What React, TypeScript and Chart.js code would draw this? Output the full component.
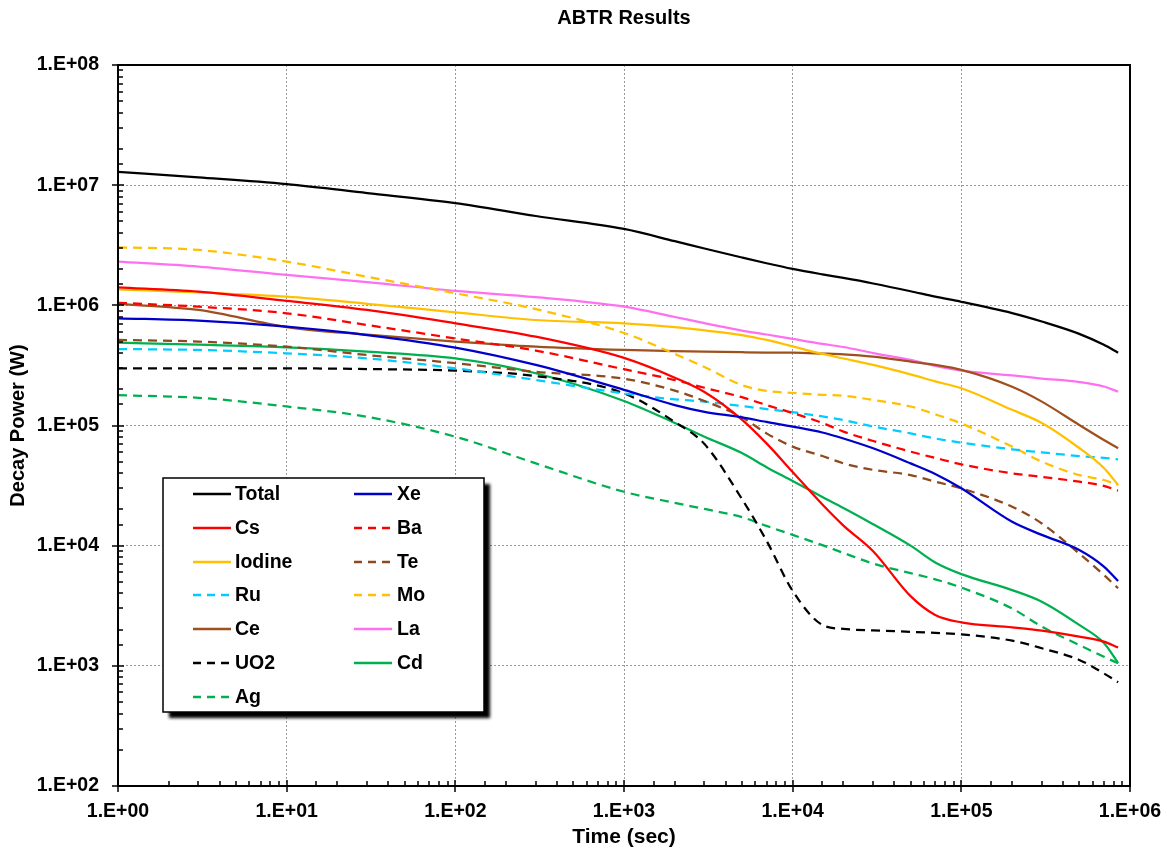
import React, { useEffect, useRef } from 'react';
import { Chart, registerables } from 'chart.js';

Chart.register(...registerables);

// ---- data ----
const TIME = [1, 3, 10, 30, 100, 300, 1000, 2000, 3000, 5000, 7000, 1e4, 1.5e4, 2e4, 3e4, 5e4, 7e4, 1e5, 2e5, 3e5, 5e5, 7e5, 8.5e5];

const TOTAL = [1.29e7, 1.16e7, 1.02e7, 8.6e6, 7.1e6, 5.54e6, 4.32e6, 3.42e6, 2.97e6, 2.5e6, 2.24e6, 2.01e6, 1.81e6, 1.69e6, 1.52e6, 1.31e6, 1.18e6, 1.07e6, 8.61e5, 7.33e5, 5.79e5, 4.69e5, 4.03e5];
const XE = [7.8e5, 7.45e5, 6.64e5, 5.66e5, 4.45e5, 3.19e5, 1.98e5, 1.48e5, 1.3e5, 1.17e5, 1.07e5, 9.8e4, 8.75e4, 7.8e4, 6.46e4, 4.84e4, 3.95e4, 3.0e4, 1.58e4, 1.23e4, 9.2e3, 6.7e3, 5.08e3];
const CS = [1.41e6, 1.3e6, 1.09e6, 9.15e5, 7.08e5, 5.48e5, 3.65e5, 2.5e5, 1.9e5, 1.12e5, 7.1e4, 4.1e4, 2.2e4, 1.47e4, 9.0e3, 3.8e3, 2.65e3, 2.3e3, 2.09e3, 1.96e3, 1.75e3, 1.59e3, 1.42e3];
const BA = [1.05e6, 9.75e5, 8.59e5, 6.86e5, 5.3e5, 4.2e5, 2.94e5, 2.39e5, 2.06e5, 1.72e5, 1.48e5, 1.27e5, 1.05e5, 8.9e4, 7.43e4, 6.06e4, 5.37e4, 4.75e4, 4.0e4, 3.73e4, 3.41e4, 3.14e4, 2.87e4];
const IODINE = [1.36e6, 1.28e6, 1.18e6, 1.03e6, 8.75e5, 7.55e5, 7.08e5, 6.6e5, 6.2e5, 5.66e5, 5.15e5, 4.55e5, 3.94e5, 3.61e5, 3.19e5, 2.66e5, 2.33e5, 2.04e5, 1.35e5, 1.05e5, 6.5e4, 4.43e4, 3.2e4];
const TE = [5.15e5, 4.99e5, 4.53e5, 3.86e5, 3.3e5, 2.8e5, 2.45e5, 1.95e5, 1.6e5, 1.17e5, 8.6e4, 6.67e4, 5.57e4, 4.84e4, 4.27e4, 3.87e4, 3.41e4, 3.0e4, 2.11e4, 1.53e4, 8.6e3, 5.7e3, 4.42e3];
const RU = [4.33e5, 4.25e5, 3.99e5, 3.62e5, 2.99e5, 2.39e5, 1.85e5, 1.65e5, 1.58e5, 1.45e5, 1.37e5, 1.29e5, 1.19e5, 1.11e5, 9.8e4, 8.6e4, 7.8e4, 7.2e4, 6.34e4, 5.98e4, 5.57e4, 5.37e4, 5.23e4];
const MO = [3.04e6, 2.89e6, 2.31e6, 1.73e6, 1.26e6, 9.3e5, 5.89e5, 3.94e5, 3.07e5, 2.17e5, 1.94e5, 1.87e5, 1.8e5, 1.77e5, 1.63e5, 1.44e5, 1.24e5, 1.04e5, 6.67e4, 5.0e4, 3.87e4, 3.52e4, 3.2e4];
const CE = [1.03e6, 9.15e5, 6.6e5, 5.7e5, 4.99e5, 4.53e5, 4.25e5, 4.15e5, 4.11e5, 4.07e5, 4.05e5, 4.04e5, 3.97e5, 3.91e5, 3.74e5, 3.4e5, 3.19e5, 2.9e5, 2.1e5, 1.58e5, 1.01e5, 7.57e4, 6.46e4];
const LA = [2.31e6, 2.1e6, 1.79e6, 1.56e6, 1.32e6, 1.17e6, 9.75e5, 8.0e5, 7.1e5, 6.17e5, 5.72e5, 5.25e5, 4.77e5, 4.5e5, 4.01e5, 3.51e5, 3.13e5, 2.86e5, 2.61e5, 2.46e5, 2.3e5, 2.11e5, 1.91e5];
const UO2 = [2.99e5, 2.99e5, 2.99e5, 2.95e5, 2.86e5, 2.58e5, 1.85e5, 1.07e5, 7.0e4, 2.45e4, 1.1e4, 4.2e3, 2.19e3, 2.03e3, 1.97e3, 1.92e3, 1.88e3, 1.83e3, 1.62e3, 1.4e3, 1.12e3, 8.65e2, 7.3e2];
const CD = [4.89e5, 4.7e5, 4.47e5, 4.11e5, 3.62e5, 2.72e5, 1.6e5, 1.05e5, 8.07e4, 5.9e4, 4.5e4, 3.45e4, 2.54e4, 2.06e4, 1.51e4, 1.0e4, 7.25e3, 5.8e3, 4.27e3, 3.42e3, 2.19e3, 1.55e3, 1.06e3];
const AG = [1.79e5, 1.7e5, 1.44e5, 1.18e5, 8.07e4, 4.84e4, 2.81e4, 2.27e4, 2.02e4, 1.73e4, 1.46e4, 1.23e4, 1.01e4, 8.7e3, 7.1e3, 5.9e3, 5.25e3, 4.48e3, 3.0e3, 2.12e3, 1.49e3, 1.19e3, 1.05e3];

const X_MIN = 1;
const X_MAX = 1e6;
const Y_MIN = 1e2;
const Y_MAX = 1e8;

const TITLE = 'ABTR Results';
const X_TITLE = 'Time (sec)';
const Y_TITLE = 'Decay Power (W)';

// ---- styles ----
const DASH = [9, 6];
const SERIES = [
  { label: 'Total', values: TOTAL, color: '#000000', dash: [] as number[] },
  { label: 'Xe', values: XE, color: '#0000CC', dash: [] as number[] },
  { label: 'Cs', values: CS, color: '#FF0000', dash: [] as number[] },
  { label: 'Ba', values: BA, color: '#FF0000', dash: DASH },
  { label: 'Iodine', values: IODINE, color: '#FFC000', dash: [] as number[] },
  { label: 'Te', values: TE, color: '#8C4A1E', dash: DASH },
  { label: 'Ru', values: RU, color: '#00CCFF', dash: DASH },
  { label: 'Mo', values: MO, color: '#FFC000', dash: DASH },
  { label: 'Ce', values: CE, color: '#A0501E', dash: [] as number[] },
  { label: 'La', values: LA, color: '#FF70F0', dash: [] as number[] },
  { label: 'UO2', values: UO2, color: '#000000', dash: DASH },
  { label: 'Cd', values: CD, color: '#00B050', dash: [] as number[] },
  { label: 'Ag', values: AG, color: '#00B050', dash: DASH },
];

const FONT = "'Liberation Sans', Arial, sans-serif";

const isDecade = (v: number) => {
  const l = Math.log10(v);
  return Math.abs(l - Math.round(l)) < 1e-9;
};
const sciLabel = (v: number) => {
  const e = Math.round(Math.log10(v));
  return '1.E' + (e < 0 ? '-' : '+') + String(Math.abs(e)).padStart(2, '0');
};

const decorPlugin = {
  id: 'decor',
  afterDraw(chart: any) {
    const ctx = chart.ctx as CanvasRenderingContext2D;
    const a = chart.chartArea;
    const xs = chart.scales.x;
    const ys = chart.scales.y;
    ctx.save();
    ctx.strokeStyle = '#000';
    ctx.lineWidth = 1.5;
    ctx.setLineDash([]);
    // x ticks
    xs.ticks.forEach((t: any) => {
      const p = Math.round(xs.getPixelForValue(t.value));
      const maj = isDecade(t.value);
      ctx.beginPath();
      ctx.moveTo(p, a.bottom - (maj ? 6 : 5));
      ctx.lineTo(p, a.bottom + (maj ? 6 : 0));
      ctx.stroke();
    });
    // y ticks
    ys.ticks.forEach((t: any) => {
      const p = Math.round(ys.getPixelForValue(t.value));
      const maj = isDecade(t.value);
      ctx.beginPath();
      ctx.moveTo(a.left - (maj ? 6 : 0), p);
      ctx.lineTo(a.left + (maj ? 6 : 5), p);
      ctx.stroke();
    });
    // frame
    ctx.lineWidth = 2;
    ctx.strokeRect(a.left, a.top, a.right - a.left, a.bottom - a.top);

    // legend box
    const bx = 163, by = 478, bw = 321, bh = 234;
    ctx.save();
    ctx.shadowColor = 'rgba(0,0,0,1)';
    ctx.shadowOffsetX = 6;
    ctx.shadowOffsetY = 6;
    ctx.shadowBlur = 3;
    ctx.fillStyle = '#fff';
    ctx.fillRect(bx, by, bw, bh);
    ctx.restore();
    ctx.lineWidth = 1.5;
    ctx.strokeStyle = '#000';
    ctx.strokeRect(bx, by, bw, bh);

    const colLine = [193, 354];
    const colText = [235, 397];
    const row0 = 494;
    const rowH = 33.8;
    ctx.font = `bold 19.5px ${FONT}`;
    ctx.textBaseline = 'middle';
    ctx.textAlign = 'left';
    chart.data.datasets.forEach((ds: any, i: number) => {
      const c = i % 2;
      const r = Math.floor(i / 2);
      const y = Math.round(row0 + r * rowH);
      ctx.strokeStyle = ds.borderColor;
      ctx.lineWidth = 2.5;
      ctx.setLineDash(ds.borderDash && ds.borderDash.length ? [8, 6] : []);
      ctx.lineDashOffset = 0;
      ctx.beginPath();
      ctx.moveTo(colLine[c], y);
      ctx.lineTo(colLine[c] + 38, y);
      ctx.stroke();
      ctx.setLineDash([]);
      ctx.fillStyle = '#000';
      ctx.fillText(ds.label, colText[c], y + 1);
    });
    ctx.restore();
  },
};

export default function App() {
  const ref = useRef<HTMLCanvasElement | null>(null);

  useEffect(() => {
    if (!ref.current) return;
    const datasets = SERIES.map((s) => ({
      label: s.label,
      data: TIME.map((t, i) => ({ x: t, y: s.values[i] })),
      borderColor: s.color,
      backgroundColor: s.color,
      borderDash: s.dash,
      borderWidth: 2.25,
      pointRadius: 0,
      pointHoverRadius: 0,
      fill: false,
      cubicInterpolationMode: 'monotone' as const,
    }));

    const tickFont = { family: FONT, size: 19.5, weight: 'bold' as const };

    const chart = new Chart(ref.current, {
      type: 'line',
      data: { datasets },
      plugins: [decorPlugin],
      options: {
        animation: false,
        responsive: true,
        maintainAspectRatio: false,
        events: [],
        layout: { padding: { top: 0, right: 37, bottom: 0, left: 0 } },
        plugins: {
          legend: { display: false },
          tooltip: { enabled: false },
          title: {
            display: true,
            text: TITLE,
            fullSize: false,
            color: '#000',
            font: { family: FONT, size: 20, weight: 'bold' },
            padding: { top: 6, bottom: 35 },
          },
        },
        scales: {
          x: {
            type: 'logarithmic',
            position: 'bottom',
            min: X_MIN,
            max: X_MAX,
            afterFit: (s: any) => {
              s.height = 64;
              s.paddingLeft = 0;
              s.paddingRight = 0;
            },
            ticks: {
              autoSkip: false,
              maxRotation: 0,
              minRotation: 0,
              padding: 14,
              color: '#000',
              font: tickFont,
              callback: (v: any) => (isDecade(Number(v)) ? sciLabel(Number(v)) : ''),
            },
            grid: {
              drawTicks: false,
              lineWidth: 1,
              color: (c: any) => (c.tick && isDecade(c.tick.value) ? '#9a9a9a' : 'rgba(0,0,0,0)'),
            },
            border: { display: false, dash: [2, 2] },
            title: {
              display: true,
              text: X_TITLE,
              color: '#000',
              font: { family: FONT, size: 21, weight: 'bold' },
              padding: { top: 0, bottom: 0 },
            },
          },
          y: {
            type: 'logarithmic',
            position: 'left',
            min: Y_MIN,
            max: Y_MAX,
            afterFit: (s: any) => {
              s.width = 118;
              s.paddingTop = 0;
              s.paddingBottom = 0;
            },
            ticks: {
              autoSkip: false,
              padding: 19,
              color: '#000',
              font: tickFont,
              callback: (v: any) => (isDecade(Number(v)) ? sciLabel(Number(v)) : ''),
            },
            grid: {
              drawTicks: false,
              lineWidth: 1,
              color: (c: any) => (c.tick && isDecade(c.tick.value) ? '#9a9a9a' : 'rgba(0,0,0,0)'),
            },
            border: { display: false, dash: [2, 2] },
            title: {
              display: true,
              text: Y_TITLE,
              color: '#000',
              font: { family: FONT, size: 20, weight: 'bold' },
              padding: { top: 6, bottom: 0 },
            },
          },
        },
      },
    });
    return () => chart.destroy();
  }, []);

  return (
    <div style={{ position: 'absolute', left: 0, top: 0, width: '1167px', height: '850px', background: '#fff' }}>
      <canvas ref={ref} />
    </div>
  );
}
